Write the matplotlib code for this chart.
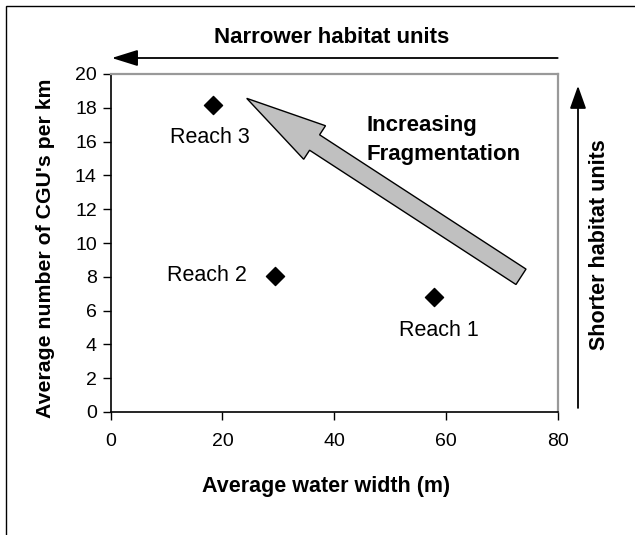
import numpy as np
import matplotlib
matplotlib.use("Agg")
import matplotlib.pyplot as plt
from matplotlib.patches import Polygon, FancyArrowPatch, Rectangle

plt.rcParams['font.family'] = ['Liberation Sans', 'DejaVu Sans']

# ---- data ----
reaches = ["Reach 1", "Reach 2", "Reach 3"]
water_width = [57.8, 29.4, 18.3]
cgu_per_km = [6.8, 8.05, 18.15]
x_ticks = [0, 20, 40, 60, 80]
y_ticks = [0, 2, 4, 6, 8, 10, 12, 14, 16, 18, 20]

W, H = 635, 535
fig = plt.figure(figsize=(W / 100, H / 100), dpi=100)
fig.patch.set_facecolor('white')

# outer border (cropped at right/bottom)
fig.add_artist(Rectangle((6 / W, -0.5), 2, (1 - 6 / H) + 0.5, transform=fig.transFigure,
                         fill=False, edgecolor='black', lw=1.0))

ax = fig.add_axes([110.7 / W, (H - 412) / H, 447 / W, 338 / H])
ax.set_xlim(0, 80)
ax.set_ylim(0, 20)
ax.set_xticks(x_ticks)
ax.set_yticks(y_ticks)
ax.tick_params(axis='both', direction='out', length=6, width=1, labelsize=14, color='black')
ax.tick_params(axis='x', pad=9)
ax.tick_params(axis='y', pad=4)
for s in ['left', 'bottom']:
    ax.spines[s].set_color('black')
    ax.spines[s].set_linewidth(1.2)
for s in ['top', 'right']:
    ax.spines[s].set_color('#999999')
    ax.spines[s].set_linewidth(1.6)

ax.scatter(water_width, cgu_per_km, marker='D', s=85, color='black', zorder=5, clip_on=False)

# point labels
lab_fs = 15.5
ax.annotate(reaches[0], (water_width[0], cgu_per_km[0]), xytext=(5, -33), textcoords='offset pixels',
            ha='center', va='center', fontsize=lab_fs)
ax.annotate(reaches[1], (water_width[1], cgu_per_km[1]), xytext=(-28, 0), textcoords='offset pixels',
            ha='right', va='center', fontsize=lab_fs)
ax.annotate(reaches[2], (water_width[2], cgu_per_km[2]), xytext=(-3, -32), textcoords='offset pixels',
            ha='center', va='center', fontsize=lab_fs)

ax.set_xlabel("Average water width (m)", fontsize=15.5, fontweight='bold')
ax.set_ylabel("Average number of CGU's per km", fontsize=15.3, fontweight='bold')
ax.xaxis.set_label_coords(0.482, -0.19)
ax.yaxis.set_label_coords(-0.125, 0.485)

# ---- big gray arrow (defined in data coords, widths in pixels) ----
fig.canvas.draw()
T = ax.transData.transform((24.34, 18.56))
S = ax.transData.transform((73.43, 8.0))
u = (T - S) / np.hypot(*(T - S))
n = np.array([-u[1], u[0]])
w, hw, hl = 9.2, 20.0, 81.0
B = T - u * hl
pts = np.array([S + n * w, B + n * w, B + n * hw, T, B - n * hw, B - n * w, S - n * w])
pts_data = ax.transData.inverted().transform(pts)
ax.add_patch(Polygon(pts_data, closed=True, facecolor='#c0c0c0', edgecolor='black',
                     lw=1.0, clip_on=False, zorder=4))

ax.text(45.8, 16.95, "Increasing", fontsize=16, fontweight='bold', ha='left', va='center')
ax.text(45.8, 15.25, "Fragmentation", fontsize=16, fontweight='bold', ha='left', va='center')

# ---- top arrow ----
y_top = (412 - 58) / 16.9  # data y for pixel row 58
ax.add_patch(FancyArrowPatch((80, y_top), (0.2, y_top), arrowstyle='-|>,head_length=16,head_width=5',
                             mutation_scale=1, shrinkA=0, shrinkB=0, lw=1.3, color='black',
                             clip_on=False))
ax.text(39.5, (412 - 38) / 16.9, "Narrower habitat units", fontsize=16, fontweight='bold',
        ha='center', va='center', clip_on=False)

# ---- right arrow ----
x_r = (578 - 110.7) / 5.5875
ax.add_patch(FancyArrowPatch((x_r, 0.24), (x_r, 19.3), arrowstyle='-|>,head_length=14,head_width=5',
                             mutation_scale=1, shrinkA=0, shrinkB=0, lw=1.3, color='black',
                             clip_on=False))
ax.text((600 - 110.7) / 5.5875, (412 - 245) / 16.9, "Shorter habitat units", fontsize=15.5,
        fontweight='bold', rotation=90, ha='center', va='center', clip_on=False)

fig.savefig("out.png", dpi=100)
